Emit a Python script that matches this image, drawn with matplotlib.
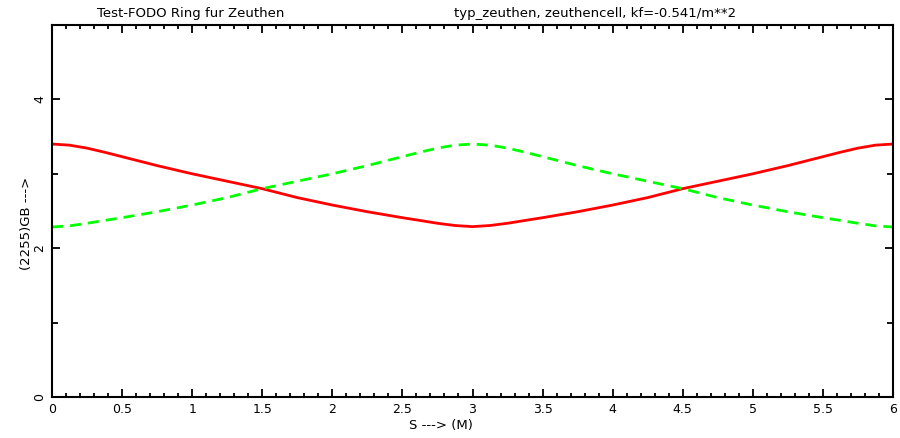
import numpy as np
import matplotlib
matplotlib.use('Agg')
from matplotlib import pyplot as plt
from matplotlib.ticker import MultipleLocator

# beta functions along one cell (every 0.125 m)
s = [0.0, 0.125, 0.25, 0.375, 0.5, 0.625, 0.75, 0.875, 1.0, 1.125, 1.25, 1.375,
     1.5, 1.625, 1.75, 1.875, 2.0, 2.125, 2.25, 2.375, 2.5, 2.625, 2.75, 2.875,
     3.0, 3.125, 3.25, 3.375, 3.5, 3.625, 3.75, 3.875, 4.0, 4.125, 4.25, 4.375,
     4.5, 4.625, 4.75, 4.875, 5.0, 5.125, 5.25, 5.375, 5.5, 5.625, 5.75, 5.875, 6.0]
beta_x = [3.400, 3.385, 3.345, 3.290, 3.230, 3.170, 3.110, 3.055, 3.000, 2.950, 2.900, 2.850,
          2.800, 2.740, 2.680, 2.630, 2.580, 2.535, 2.490, 2.450, 2.410, 2.373, 2.335, 2.305,
          2.290, 2.305, 2.335, 2.373, 2.410, 2.450, 2.490, 2.535, 2.580, 2.630, 2.680, 2.740,
          2.800, 2.850, 2.900, 2.950, 3.000, 3.055, 3.110, 3.170, 3.230, 3.290, 3.345, 3.385, 3.400]
beta_y = [2.285, 2.300, 2.335, 2.373, 2.410, 2.450, 2.490, 2.535, 2.580, 2.630, 2.680, 2.740,
          2.800, 2.850, 2.900, 2.950, 3.000, 3.055, 3.110, 3.170, 3.230, 3.290, 3.345, 3.385,
          3.400, 3.385, 3.345, 3.290, 3.230, 3.170, 3.110, 3.055, 3.000, 2.950, 2.900, 2.850,
          2.800, 2.740, 2.680, 2.630, 2.580, 2.535, 2.490, 2.450, 2.410, 2.373, 2.335, 2.300, 2.285]

title_left = "Test-FODO Ring fur Zeuthen"
title_right = "typ_zeuthen, zeuthencell, kf=-0.541/m**2"
xlabel = "S ---> (M)"
ylabel = "(2255)GB --->"

fig = plt.figure(figsize=(9, 4.38), dpi=100)
ax = fig.add_axes([52/900, 41/438, 841/900, 372/438])

ax.plot(s, beta_x, color='#ff0000', lw=2, solid_joinstyle='round')
ax.plot(s, beta_y, color='#00ff00', lw=2, dashes=(4, 2.5))

ax.set_xlim(0, 6)
ax.set_ylim(0, 5)

ax.xaxis.set_minor_locator(MultipleLocator(0.1))
ax.set_xticks([0, 0.5, 1, 1.5, 2, 2.5, 3, 3.5, 4, 4.5, 5, 5.5, 6])
ax.set_xticklabels(['0', '0.5', '1', '1.5', '2', '2.5', '3', '3.5', '4', '4.5', '5', '5.5', '6'])
ax.set_yticks([0, 2, 4])
ax.set_yticklabels(['0', '2', '4'], rotation=90, va='center')
ax.yaxis.set_minor_locator(MultipleLocator(1))

ax.tick_params(which='both', direction='in', top=True, right=True, labelsize=9, width=1.3)
ax.tick_params(which='major', length=6, pad=4)
ax.tick_params(which='minor', length=3)
ax.tick_params(axis='y', which='minor', length=4)
for sp in ax.spines.values():
    sp.set_linewidth(1.5)

fig.text(97/900, 1 - 13/438, title_left, fontsize=9.5, va='center', ha='left')
fig.text(454/900, 1 - 13/438, title_right, fontsize=9.5, va='center', ha='left')
fig.text(441/900, 1 - 425/438, xlabel, fontsize=9.5, va='center', ha='center')
fig.text(27/900, 1 - 223/438, ylabel, fontsize=9.5, va='center', ha='center', rotation=90)

fig.savefig('out.png', dpi=100)
